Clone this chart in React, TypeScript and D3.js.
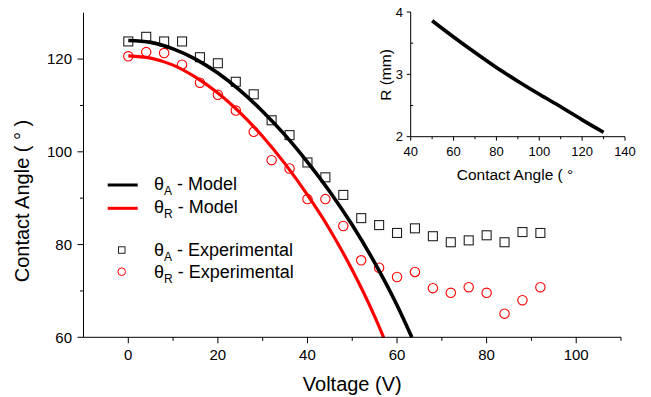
import React from "react";
import * as d3 from "d3";

const W = 651;
const H = 397;
const FONT = "'Liberation Sans', Arial, sans-serif";

// experimental contact angles (deg) vs applied voltage (V)
const voltage = [0, 4, 8, 12, 16, 20, 24, 28, 32, 36, 40, 44, 48, 52, 56, 60, 64, 68, 72, 76, 80, 84, 88, 92];
const advancing = [123.8, 124.8, 123.8, 123.8, 120.4, 119.1, 115.1, 112.4, 106.8, 103.6, 97.7, 94.5, 90.7, 85.7, 84.2, 82.5, 83.5, 81.8, 80.5, 80.9, 82.0, 80.5, 82.7, 82.5];
const receding = [120.6, 121.5, 121.3, 118.8, 114.9, 112.3, 108.9, 104.3, 98.2, 96.4, 89.8, 89.8, 84.0, 76.6, 75.0, 73.0, 74.1, 70.6, 69.6, 70.8, 69.6, 65.1, 68.0, 70.8];

// model curves
const advModelV = [0, 5, 10, 15, 20, 25, 30, 35, 40, 45, 50, 55, 60, 63.3];
const advModel = [124.0, 123.6, 122.2, 120.0, 117.0, 113.2, 108.7, 103.6, 97.8, 91.4, 84.2, 76.1, 66.9, 60.0];
const recModelV = [0, 5, 10, 15, 20, 25, 30, 35, 40, 45, 50, 55, 57];
const recModel = [120.7, 120.2, 118.7, 116.1, 112.7, 108.4, 103.3, 97.4, 90.7, 83.2, 74.5, 64.5, 60.0];

// inset: drop radius (mm) vs contact angle (deg)
const insetAngle = [50, 60, 70, 80, 90, 100, 110, 120, 130];
const insetR = [3.86, 3.6, 3.35, 3.11, 2.89, 2.68, 2.48, 2.27, 2.07];

const xTicks = [0, 20, 40, 60, 80, 100];
const xMinor = [10, 30, 50, 70, 90, 110];
const yTicks = [60, 80, 100, 120];
const yMinor = [70, 90, 110];
const insetXTicks = [40, 60, 80, 100, 120, 140];
const insetXMinor = [50, 70, 90, 110, 130];
const insetYTicks = [2, 3, 4];
const insetYMinor = [2.5, 3.5];

export default function App() {
  // main axes
  const x = d3.scaleLinear().domain([-10, 110]).range([83.5, 621]);
  const y = d3.scaleLinear().domain([60, 130]).range([337.3, 12.7]);
  // inset axes
  const ix = d3.scaleLinear().domain([40, 140]).range([410.7, 625]);
  const iy = d3.scaleLinear().domain([2, 4]).range([136.7, 12]);

  const line = d3
    .line<[number, number]>()
    .x((d) => x(d[0]))
    .y((d) => y(d[1]))
    .curve(d3.curveMonotoneX);
  const insetLine = d3
    .line<[number, number]>()
    .x((d) => ix(d[0]))
    .y((d) => iy(d[1]))
    .curve(d3.curveMonotoneX);

  const advPath = line(advModelV.map((v, i) => [v, advModel[i]]));
  const recPath = line(recModelV.map((v, i) => [v, recModel[i]]));
  const rPath = insetLine(insetAngle.map((a, i) => [a, insetR[i]]));

  const x0 = x.range()[0];
  const yBase = y.range()[0];

  return (
    <svg
      width={W}
      height={H}
      style={{ position: "absolute", left: 0, top: 0, background: "#fff" }}
      fontFamily={FONT}
    >
      {/* experimental points */}
      {voltage.map((v, i) => (
        <rect
          key={"a" + i}
          x={x(v) - 4.5}
          y={y(advancing[i]) - 4.5}
          width={9}
          height={9}
          fill="none"
          stroke="#222"
          strokeWidth={1.1}
        />
      ))}
      {voltage.map((v, i) => (
        <circle
          key={"r" + i}
          cx={x(v)}
          cy={y(receding[i])}
          r={4.7}
          fill="none"
          stroke="#ff0000"
          strokeWidth={1.1}
        />
      ))}

      {/* model curves */}
      <path d={advPath ?? ""} fill="none" stroke="#000" strokeWidth={3.6} />
      <path d={recPath ?? ""} fill="none" stroke="#ff0000" strokeWidth={3.2} />

      {/* main axes */}
      <line x1={x0} x2={x0} y1={y.range()[1]} y2={yBase} stroke="#000" strokeWidth={1} />
      <line x1={x0} x2={x.range()[1]} y1={yBase} y2={yBase} stroke="#000" strokeWidth={1} />
      {xTicks.map((t) => (
        <g key={"xt" + t}>
          <line x1={x(t)} x2={x(t)} y1={yBase} y2={yBase + 6} stroke="#000" />
          <text x={x(t)} y={359.5} textAnchor="middle" fontSize={15}>
            {t}
          </text>
        </g>
      ))}
      {xMinor.map((t) => (
        <line key={"xm" + t} x1={x(t)} x2={x(t)} y1={yBase} y2={yBase + 3.5} stroke="#000" />
      ))}
      {yTicks.map((t) => (
        <g key={"yt" + t}>
          <line x1={x0 - 6} x2={x0} y1={y(t)} y2={y(t)} stroke="#000" />
          <text x={72} y={y(t) + 5.3} textAnchor="end" fontSize={15}>
            {t}
          </text>
        </g>
      ))}
      {yMinor.map((t) => (
        <line key={"ym" + t} x1={x0 - 3.5} x2={x0} y1={y(t)} y2={y(t)} stroke="#000" />
      ))}
      <text x={(x.range()[0] + x.range()[1]) / 2} y={391} textAnchor="middle" fontSize={20}>
        Voltage (V)
      </text>
      <text transform="translate(29,201) rotate(-90)" textAnchor="middle" fontSize={20}>
        {"Contact Angle (  °  )"}
      </text>

      {/* legend */}
      <line x1={107.7} x2={137.7} y1={185} y2={185} stroke="#000" strokeWidth={3} />
      <line x1={107.7} x2={137.7} y1={208.3} y2={208.3} stroke="#ff0000" strokeWidth={3} />
      <rect x={118.5} y={246.8} width={6.5} height={6.5} fill="none" stroke="#222" strokeWidth={1} />
      <circle cx={121.7} cy={271.7} r={3.8} fill="none" stroke="#ff0000" strokeWidth={1} />
      {[
        { sub: "A", label: " - Model", yb: 189.5 },
        { sub: "R", label: " - Model", yb: 212.8 },
        { sub: "A", label: " - Experimental", yb: 255.5 },
        { sub: "R", label: " - Experimental", yb: 277.5 },
      ].map((d, i) => (
        <text key={"lg" + i} x={154} y={d.yb} fontSize={18}>
          θ
          <tspan fontSize={12} dy={5}>
            {d.sub}
          </tspan>
          <tspan dy={-5}>{d.label}</tspan>
        </text>
      ))}

      {/* inset */}
      <path d={rPath ?? ""} fill="none" stroke="#000" strokeWidth={3.6} />
      <line x1={ix.range()[0]} x2={ix.range()[0]} y1={iy.range()[1]} y2={iy.range()[0]} stroke="#000" />
      <line x1={ix.range()[0]} x2={ix.range()[1]} y1={iy.range()[0]} y2={iy.range()[0]} stroke="#000" />
      {insetXTicks.map((t) => (
        <g key={"ixt" + t}>
          <line x1={ix(t)} x2={ix(t)} y1={iy.range()[0]} y2={iy.range()[0] + 4} stroke="#000" />
          <text x={ix(t)} y={156} textAnchor="middle" fontSize={13}>
            {t}
          </text>
        </g>
      ))}
      {insetXMinor.map((t) => (
        <line key={"ixm" + t} x1={ix(t)} x2={ix(t)} y1={iy.range()[0]} y2={iy.range()[0] + 2.5} stroke="#000" />
      ))}
      {insetYTicks.map((t) => (
        <g key={"iyt" + t}>
          <line x1={ix.range()[0] - 4} x2={ix.range()[0]} y1={iy(t)} y2={iy(t)} stroke="#000" />
          <text x={403} y={iy(t) + 4.7} textAnchor="end" fontSize={13}>
            {t}
          </text>
        </g>
      ))}
      {insetYMinor.map((t) => (
        <line key={"iym" + t} x1={ix.range()[0]} x2={ix.range()[0] + 2.5} y1={iy(t)} y2={iy(t)} stroke="#000" />
      ))}
      <text transform="translate(391,75) rotate(-90)" textAnchor="middle" fontSize={15.5}>
        R (mm)
      </text>
      <text x={515} y={180} textAnchor="middle" fontSize={15.5}>
        {"Contact Angle ( °"}
      </text>
    </svg>
  );
}
